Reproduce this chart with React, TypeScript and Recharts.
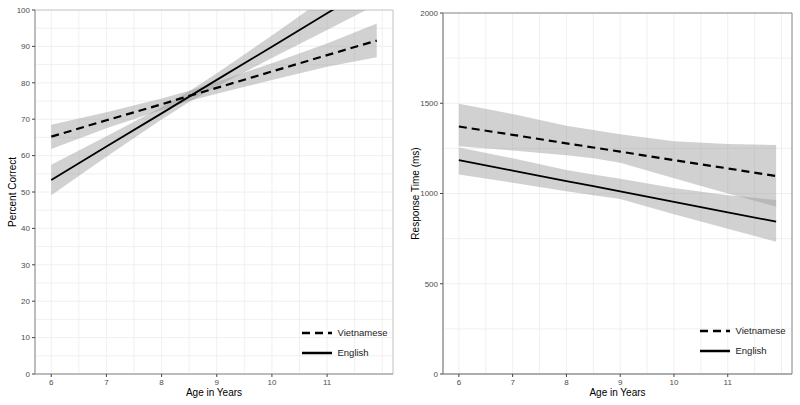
import {
  ComposedChart,
  Area,
  Line,
  XAxis,
  YAxis,
  CartesianGrid,
  ReferenceArea,
  Legend,
} from 'recharts'

const ages = [6, 7, 8, 8.5, 9, 10, 11, 11.9]

// left panel: percent correct
const engPct = [53.3, 62.5, 71.6, 76.2, 80.8, 89.9, 99.1, 107.3]
const engPctLo = [49.1, 59.7, 69.9, 74.7, 79.0, 86.8, 94.5, 101.5]
const engPctHi = [57.5, 65.3, 73.3, 77.7, 82.6, 93.0, 103.7, 113.1]
const vietPct = [65.2, 69.7, 74.1, 76.4, 78.6, 83.1, 87.6, 91.6]
const vietPctLo = [61.8, 67.5, 72.5, 75.0, 77.0, 80.8, 84.4, 87.0]
const vietPctHi = [68.5, 71.9, 75.7, 77.8, 80.2, 85.4, 90.8, 96.3]

// right panel: response time (ms)
const engRt = [1185, 1127, 1069, 1041, 1012, 954, 896, 844]
const engRtLo = [1105, 1060, 1012, 990, 970, 885, 805, 733]
const engRtHi = [1255, 1195, 1130, 1105, 1082, 1030, 990, 964]
const vietRt = [1371, 1325, 1278, 1255, 1232, 1185, 1139, 1097]
const vietRtLo = [1262, 1238, 1212, 1195, 1170, 1085, 1000, 927]
const vietRtHi = [1497, 1440, 1375, 1352, 1328, 1290, 1274, 1269]

// ticks: grid on halves, labels on whole steps
const xTicks = [6, 6.5, 7, 7.5, 8, 8.5, 9, 9.5, 10, 10.5, 11, 11.5, 12]
const xLabels = [6, 7, 8, 9, 10, 11]
const pctTicks = [0, 5, 10, 15, 20, 25, 30, 35, 40, 45, 50, 55, 60, 65, 70, 75, 80, 85, 90, 95, 100]
const rtTicks = [0, 250, 500, 750, 1000, 1250, 1500, 1750, 2000]

const xDomain = [5.705, 12.195]
const FONT = '"Liberation Sans", Arial, Helvetica, sans-serif'

const pctRows = ages.map((age, i) => ({
  age,
  eng: engPct[i],
  engBand: [engPctLo[i], engPctHi[i]],
  viet: vietPct[i],
  vietBand: [vietPctLo[i], vietPctHi[i]],
}))

const rtRows = ages.map((age, i) => ({
  age,
  eng: engRt[i],
  engBand: [engRtLo[i], engRtHi[i]],
  viet: vietRt[i],
  vietBand: [vietRtLo[i], vietRtHi[i]],
}))

function XTick(props: any) {
  const { x, y, payload } = props
  const v = payload.value
  if (!xLabels.includes(v)) return <g />
  return (
    <g>
      <line x1={x} x2={x} y1={y - 5} y2={y - 2} stroke="#444" />
      <text x={x} y={y} dy="0.71em" textAnchor="middle" fontSize={8} fill="#4d4d4d">
        {v}
      </text>
    </g>
  )
}

function makeYTick(step: number) {
  return function YTick(props: any) {
    const { x, y, payload } = props
    const v = payload.value
    if (v % step !== 0) return <g />
    return (
      <g>
        <line x1={x + 2} x2={x + 5} y1={y} y2={y} stroke="#444" />
        <text x={x} y={y} dy="0.355em" textAnchor="end" fontSize={8} fill="#4d4d4d">
          {v}
        </text>
      </g>
    )
  }
}

function LegendBox() {
  return (
    <svg width={100} height={40} style={{ display: 'block', fontFamily: FONT }}>
      <line x1={2} x2={32} y1={10} y2={10} stroke="#000" strokeWidth={2.5} strokeDasharray="8 5" />
      <text x={37.5} y={10} dy="0.35em" fontSize={9.5} fill="#1a1a1a">
        Vietnamese
      </text>
      <line x1={2} x2={32} y1={30} y2={30} stroke="#000" strokeWidth={2.5} />
      <text x={37.5} y={30} dy="0.35em" fontSize={9.5} fill="#1a1a1a">
        English
      </text>
    </svg>
  )
}

type PanelProps = {
  data: any[]
  yMax: number
  yTicks: number[]
  yStep: number
  yLabel: string
  yWidth: number
  labelOffset: number
  top: number
  right: number
  borderColor: string
  legendPos: { left: number; top: number }
}

function Panel(p: PanelProps) {
  return (
    <ComposedChart
      width={400}
      height={405}
      data={p.data}
      margin={{ top: p.top, right: p.right, bottom: 0, left: 0 }}
      style={{ fontFamily: FONT }}
    >
      <CartesianGrid stroke="#ececec" strokeWidth={0.8} />
      <XAxis
        dataKey="age"
        type="number"
        domain={xDomain}
        ticks={xTicks}
        interval={0}
        allowDataOverflow
        tick={XTick}
        tickLine={false}
        tickSize={3}
        tickMargin={2}
        height={31}
        axisLine={{ stroke: '#999' }}
        label={{ value: 'Age in Years', position: 'insideBottom', offset: 9, fontSize: 10, fill: '#000' }}
      />
      <YAxis
        type="number"
        domain={[0, p.yMax]}
        ticks={p.yTicks}
        interval={0}
        allowDataOverflow
        tick={makeYTick(p.yStep)}
        tickLine={false}
        tickSize={3}
        tickMargin={2}
        width={p.yWidth}
        axisLine={{ stroke: '#999' }}
        label={{
          value: p.yLabel,
          angle: -90,
          position: 'insideLeft',
          offset: p.labelOffset,
          fontSize: 10,
          fill: '#000',
          style: { textAnchor: 'middle' },
        }}
      />
      <ReferenceArea
        x1={xDomain[0]}
        x2={xDomain[1]}
        y1={0}
        y2={p.yMax}
        fill="none"
        stroke={p.borderColor}
        strokeWidth={1}
      />
      <Area
        type="linear"
        dataKey="vietBand"
        stroke="none"
        fill="#999"
        fillOpacity={0.45}
        isAnimationActive={false}
      />
      <Area
        type="linear"
        dataKey="engBand"
        stroke="none"
        fill="#999"
        fillOpacity={0.45}
        isAnimationActive={false}
      />
      <Line
        type="linear"
        dataKey="viet"
        stroke="#000"
        strokeWidth={2.2}
        strokeDasharray="8 5"
        dot={false}
        isAnimationActive={false}
      />
      <Line
        type="linear"
        dataKey="eng"
        stroke="#000"
        strokeWidth={1.8}
        dot={false}
        isAnimationActive={false}
      />
      <Legend
        layout="vertical"
        align="center"
        verticalAlign="middle"
        content={() => <LegendBox />}
        wrapperStyle={{ left: p.legendPos.left, top: p.legendPos.top, width: 100, height: 40 }}
      />
    </ComposedChart>
  )
}

export default function App() {
  return (
    <div style={{ position: 'absolute', left: 0, top: 0, width: 800, height: 405, background: '#fff' }}>
      <div style={{ position: 'absolute', left: 0, top: 0 }}>
        <Panel
          data={pctRows}
          yMax={100}
          yTicks={pctTicks}
          yStep={10}
          yLabel="Percent Correct"
          yWidth={35}
          labelOffset={12}
          top={10}
          right={7}
          borderColor="#c8c8c8"
          legendPos={{ left: 300, top: 323 }}
        />
      </div>
      <div style={{ position: 'absolute', left: 400, top: 0 }}>
        <Panel
          data={rtRows}
          yMax={2000}
          yTicks={rtTicks}
          yStep={500}
          yLabel="Response Time (ms)"
          yWidth={43}
          labelOffset={15}
          top={13}
          right={8}
          borderColor="#8a8a8a"
          legendPos={{ left: 298, top: 321 }}
        />
      </div>
    </div>
  )
}
